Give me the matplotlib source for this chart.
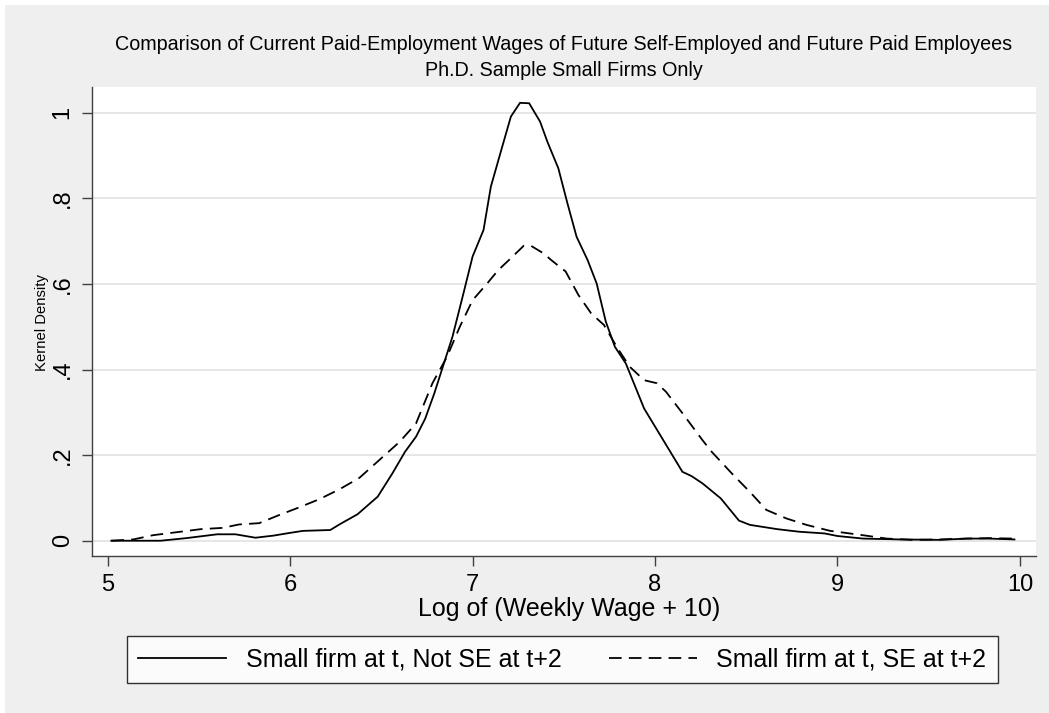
import matplotlib
matplotlib.use("Agg")
import matplotlib.pyplot as plt
from matplotlib.patches import Rectangle
from matplotlib.lines import Line2D

# Solid: small firm at t, not SE at t+2
x_not_se = [5.02, 5.29, 5.43, 5.60, 5.70, 5.81, 5.91, 5.98, 6.07, 6.22, 6.27, 6.37, 6.48,
            6.56, 6.63, 6.69, 6.74, 6.79, 6.89, 6.95, 7.00, 7.06, 7.10, 7.16, 7.21, 7.26,
            7.31, 7.37, 7.41, 7.47, 7.52, 7.57, 7.63, 7.68, 7.73, 7.78, 7.84, 7.94, 8.15,
            8.20, 8.26, 8.36, 8.46, 8.52, 8.67, 8.79, 8.93, 9.00, 9.14, 9.34, 9.56, 9.71,
            9.83, 9.97]
d_not_se = [0.000, 0.000, 0.006, 0.015, 0.015, 0.007, 0.012, 0.017, 0.023, 0.025, 0.038,
            0.062, 0.103, 0.157, 0.208, 0.243, 0.285, 0.344, 0.477, 0.578, 0.664, 0.726,
            0.827, 0.917, 0.991, 1.023, 1.022, 0.979, 0.932, 0.870, 0.788, 0.710, 0.656,
            0.601, 0.512, 0.453, 0.414, 0.309, 0.161, 0.151, 0.134, 0.099, 0.047, 0.037,
            0.027, 0.021, 0.017, 0.011, 0.005, 0.003, 0.002, 0.005, 0.005, 0.003]

# Dashed: small firm at t, SE at t+2
x_se = [5.02, 5.14, 5.25, 5.38, 5.51, 5.63, 5.72, 5.83, 5.94, 6.05, 6.16, 6.27, 6.38,
        6.49, 6.60, 6.69, 6.78, 6.86, 6.93, 7.00, 7.08, 7.14, 7.20, 7.28, 7.32, 7.39,
        7.43, 7.51, 7.58, 7.65, 7.72, 7.79, 7.86, 7.94, 8.01, 8.06, 8.15, 8.26, 8.31,
        8.43, 8.52, 8.61, 8.72, 8.83, 8.96, 9.12, 9.27, 9.41, 9.56, 9.71, 9.83, 9.97]
d_se = [0.000, 0.003, 0.013, 0.020, 0.027, 0.030, 0.038, 0.041, 0.060, 0.078, 0.097,
        0.120, 0.147, 0.189, 0.231, 0.274, 0.368, 0.430, 0.500, 0.562, 0.601, 0.632,
        0.656, 0.689, 0.689, 0.671, 0.656, 0.629, 0.574, 0.531, 0.504, 0.453, 0.407,
        0.375, 0.368, 0.348, 0.298, 0.235, 0.208, 0.153, 0.114, 0.072, 0.052, 0.037,
        0.023, 0.014, 0.005, 0.002, 0.003, 0.005, 0.006, 0.005]

x_ticks = [5, 6, 7, 8, 9, 10]
x_tick_labels = ["5", "6", "7", "8", "9", "10"]
y_ticks = [0, 0.2, 0.4, 0.6, 0.8, 1.0]
y_tick_labels = ["0", ".2", ".4", ".6", ".8", "1"]

title_lines = ["Comparison of Current Paid-Employment Wages of Future Self-Employed and Future Paid Employees",
               "Ph.D. Sample Small Firms Only"]
x_label = "Log of (Weekly Wage + 10)"
y_label = "Kernel Density"
legend_labels = ["Small firm at t, Not SE at t+2", "Small firm at t, SE at t+2"]

plt.rcParams['font.family'] = ['Liberation Sans', 'DejaVu Sans']

W, H = 1049, 713
fig = plt.figure(figsize=(W / 100, H / 100), dpi=100, facecolor="white")
fig.patches.append(Rectangle((5 / W, 0.5 / H), 1 - 5 / W, (H - 5.5) / H,
                             transform=fig.transFigure, facecolor="#efefef",
                             edgecolor="none", zorder=-10))

L, R, T, B = 92, 1036, 87, 556
ax = fig.add_axes([L / W, (H - B) / H, (R - L) / W, (B - T) / H])
ax.set_facecolor("white")

dash = (0, (7, 4))
ax.plot(x_not_se, d_not_se, color="black", lw=1.3, solid_joinstyle="miter")
ax.plot(x_se, d_se, color="black", lw=1.3, linestyle=dash)

ax.set_xlim(4.914, 10.088)
ax.set_ylim(-0.0357, 1.060)
ax.set_xticks(x_ticks)
ax.set_xticklabels(x_tick_labels)
ax.set_yticks(y_ticks)
ax.set_yticklabels(y_tick_labels, rotation=90, va="center")

for s in ["top", "right"]:
    ax.spines[s].set_visible(False)
for s in ["left", "bottom"]:
    ax.spines[s].set_color("#404040")
    ax.spines[s].set_linewidth(1.0)

ax.tick_params(axis="both", direction="out", length=7.2, width=1.0, color="#404040",
               labelsize=17, labelcolor="black")
ax.tick_params(axis="x", pad=6)
ax.tick_params(axis="y", pad=6)
ax.grid(axis="y", color="#e6e6e6", lw=1.4)
ax.set_axisbelow(True)

fig.text(564 / W, 1 - 45 / H, title_lines[0], ha="center", va="center", fontsize=14.2)
fig.text(564 / W, 1 - 70 / H, title_lines[1], ha="center", va="center", fontsize=14.2)
fig.text(569 / W, 1 - 609 / H, x_label, ha="center", va="center", fontsize=18)
fig.text(42 / W, 1 - 322 / H, y_label, ha="center", va="center", fontsize=10.7, rotation=90)

handles = [Line2D([], [], color="black", lw=1.3),
           Line2D([], [], color="black", lw=1.3, linestyle=dash)]
leg = fig.legend(handles, legend_labels, loc="upper left", ncol=2,
                 bbox_to_anchor=(127 / W, 1 - 636 / H),
                 bbox_transform=fig.transFigure, fontsize=18, handlelength=3.5,
                 handletextpad=0.8, columnspacing=1.9, borderaxespad=0, frameon=True,
                 fancybox=False, borderpad=0.45)
leg.get_frame().set_edgecolor("black")
leg.get_frame().set_linewidth(1.0)
leg.get_frame().set_facecolor("white")

fig.savefig("out.png", dpi=100, facecolor=fig.get_facecolor())
